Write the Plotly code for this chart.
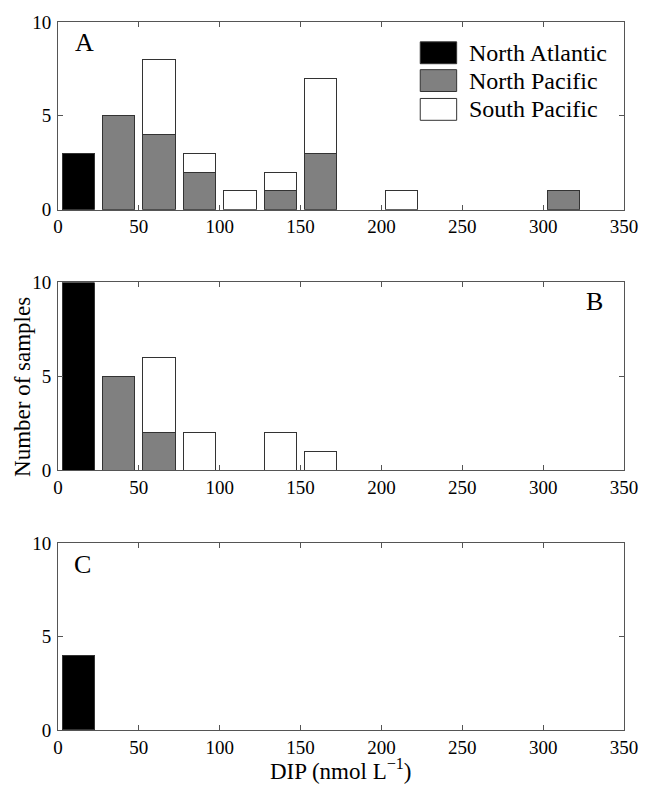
import plotly.graph_objects as go

# Bin centres (DIP, nmol/L), bins of 25
bin_centers = [12.5, 37.5, 62.5, 87.5, 112.5, 137.5, 162.5, 187.5,
               212.5, 237.5, 262.5, 287.5, 312.5, 337.5]
series_names = ["North Atlantic", "North Pacific", "South Pacific"]

# Panel A
A_north_atlantic = [3, 0, 0, 0, 0, 0, 0, 0, 0, 0, 0, 0, 0, 0]
A_north_pacific  = [0, 5, 4, 2, 0, 1, 3, 0, 0, 0, 0, 0, 1, 0]
A_south_pacific  = [0, 0, 4, 1, 1, 1, 4, 0, 1, 0, 0, 0, 0, 0]
# Panel B
B_north_atlantic = [10, 0, 0, 0, 0, 0, 0, 0, 0, 0, 0, 0, 0, 0]
B_north_pacific  = [0, 5, 2, 0, 0, 0, 0, 0, 0, 0, 0, 0, 0, 0]
B_south_pacific  = [0, 0, 4, 2, 0, 2, 1, 0, 0, 0, 0, 0, 0, 0]
# Panel C
C_north_atlantic = [4, 0, 0, 0, 0, 0, 0, 0, 0, 0, 0, 0, 0, 0]
C_north_pacific  = [0, 0, 0, 0, 0, 0, 0, 0, 0, 0, 0, 0, 0, 0]
C_south_pacific  = [0, 0, 0, 0, 0, 0, 0, 0, 0, 0, 0, 0, 0, 0]

panel_labels = ["A", "B", "C"]
x_ticks = [0, 50, 100, 150, 200, 250, 300, 350]
y_ticks = [0, 5, 10]

colors = ["#000000", "#808080", "#ffffff"]
edge = "#333333"
axis_col = "#555555"
FONT = "Liberation Serif, Times New Roman, serif"

panels = [
    (A_north_atlantic, A_north_pacific, A_south_pacific),
    (B_north_atlantic, B_north_pacific, B_south_pacific),
    (C_north_atlantic, C_north_pacific, C_south_pacific),
]

W, H = 650, 790
ml, mr, mt, mb = 58, 17, 17, 60
plot_h = H - mt - mb

def py(px):  # pixel y -> paper y
    return (H - mb - px) / plot_h

def px_(x):  # pixel x -> paper x
    return (x - ml) / (W - ml - mr)

domains = [(py(206), py(17)), (py(468.3), py(279.3)), (py(730), py(542))]

fig = go.Figure()
for i, data in enumerate(panels):
    ax = "" if i == 0 else str(i + 1)
    for s, vals in enumerate(data):
        xs = [c for c, v in zip(bin_centers, vals) if v]
        ys = [v for v in vals if v]
        if not ys:
            continue
        fig.add_trace(go.Bar(
            x=xs, y=ys, width=20, name=series_names[s],
            marker=dict(color=colors[s], line=dict(color=edge, width=1)),
            xaxis="x" + ax, yaxis="y" + ax, showlegend=False,
            offsetgroup="g",
        ))

layout = dict(
    width=W, height=H, barmode="stack",
    margin=dict(l=ml, r=mr, t=mt, b=mb),
    plot_bgcolor="white", paper_bgcolor="white",
    font=dict(family=FONT, size=19, color="black"),
)
for i in range(3):
    ax = "" if i == 0 else str(i + 1)
    layout["xaxis" + ax] = dict(
        domain=[0, 1], range=[0, 350], tickvals=x_ticks, ticks="inside",
        ticklen=5, tickcolor=axis_col, showline=True, linecolor=axis_col,
        linewidth=1, mirror="ticks", showgrid=False, zeroline=False,
        anchor="y" + ax, tickfont=dict(size=19),
    )
    layout["yaxis" + ax] = dict(
        domain=list(domains[i]), range=[0, 10], tickvals=y_ticks, ticks="inside",
        ticklen=5, tickcolor=axis_col, showline=True, linecolor=axis_col,
        linewidth=1, mirror="ticks", showgrid=False, zeroline=False,
        anchor="x" + ax, tickfont=dict(size=19), ticklabelstandoff=2,
    )
fig.update_layout(**layout)

# panel letters
letter_pos = [(85, 38), (603, 298), (83, 563)]
for lab, (lx, ly) in zip(panel_labels, letter_pos):
    fig.add_annotation(x=px_(lx), y=py(ly), xref="paper", yref="paper",
                       text=lab, showarrow=False, font=dict(size=26),
                       xanchor="center", yanchor="middle")

# legend (panel A)
leg_rows = [48, 76, 105]
for name, c, ry in zip(series_names, colors, leg_rows):
    fig.add_shape(type="rect", xref="paper", yref="paper",
                  x0=px_(426), x1=px_(463), y0=py(ry + 11), y1=py(ry - 11),
                  fillcolor=c, line=dict(color=edge, width=1))
    fig.add_annotation(x=px_(473), y=py(ry), xref="paper", yref="paper",
                       text=name, showarrow=False, font=dict(size=24),
                       xanchor="left", yanchor="middle")

# axis titles
fig.add_annotation(x=px_(22), y=py(385), xref="paper", yref="paper",
                   text="Number of samples", textangle=-90, showarrow=False,
                   font=dict(size=23), xanchor="center", yanchor="middle")
fig.add_annotation(x=px_(345), y=py(770), xref="paper", yref="paper",
                   text="DIP (nmol L<sup>\u22121</sup>)", showarrow=False,
                   font=dict(size=23), xanchor="center", yanchor="middle")

fig.write_html("out.html")
